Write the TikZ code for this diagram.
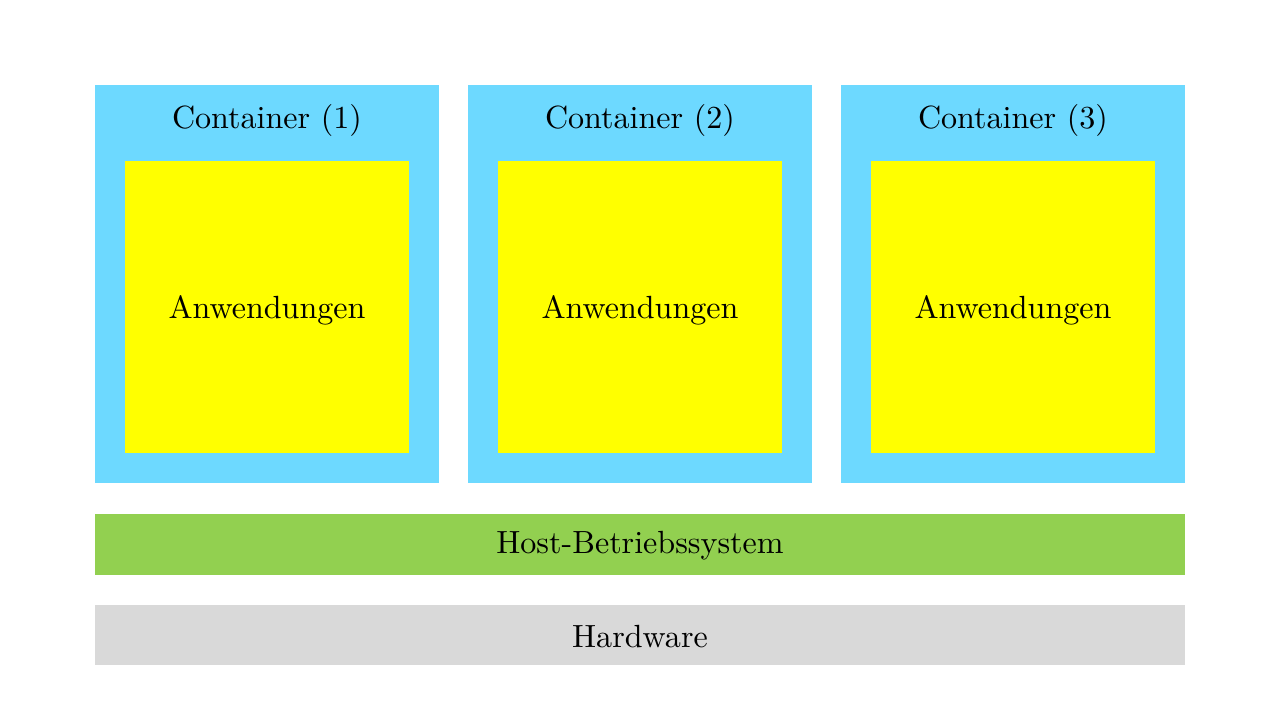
\documentclass[tikz,border=0pt]{standalone}
\definecolor{contcol}{HTML}{6DD9FF}
\definecolor{appcol}{HTML}{FFFF00}
\definecolor{hostcol}{HTML}{92D050}
\definecolor{hwcol}{HTML}{D9D9D9}
\def\u{0.3226pt}
\tikzset{
  blk/.style={draw=none, inner sep=0pt, outer sep=0pt, rectangle},
  txt/.style={blk, font=\fontsize{10.35}{12}\selectfont},
  contbox/.style={blk, fill=contcol, minimum width=344*\u, minimum height=398*\u},
  appbox/.style={blk, fill=appcol, minimum width=284*\u, minimum height=292*\u},
  layerbox/.style={blk, minimum width=1090*\u, minimum height=61*\u},
}
\begin{document}
\begin{tikzpicture}[x=\u, y=-\u]
\useasboundingbox (0,0) rectangle (1280,720);
\foreach \i/\cx in {1/267, 2/640, 3/1013} {
  \node[contbox] (c\i) at (\cx,283.5) {};
  \node[appbox] (a\i) at (\cx,307) {};
  \node[txt] (a\i t) at (\cx,310) {Anwendungen};
  \node[txt] (t\i) at (\cx,120) {Container (\i)};
}
\node[layerbox, fill=hostcol] (host) at (640,544.5) {};
\node[txt] (hostt) at (640,546) {Host-Betriebssystem};
\node[layerbox, fill=hwcol, minimum height=60*\u] (hw) at (640,635) {};
\node[txt] (hwt) at (640,637) {Hardware};
\end{tikzpicture}
\end{document}
